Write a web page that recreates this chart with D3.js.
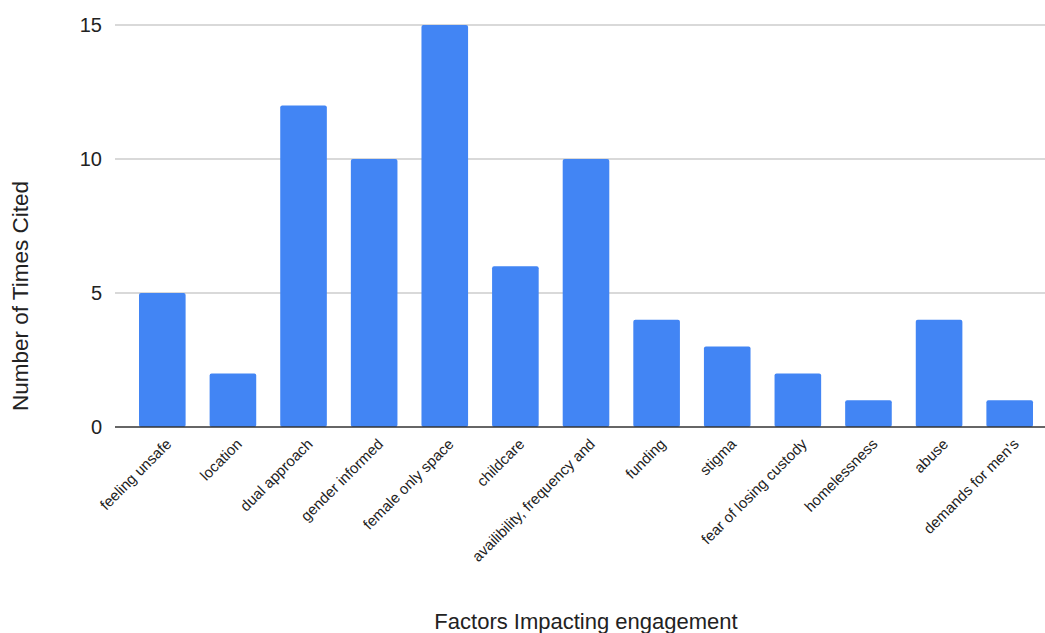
<!DOCTYPE html>
<html>
<head>
<meta charset="utf-8">
<script src="https://cdn.jsdelivr.net/npm/d3@7"></script>
<style>
  html, body { margin: 0; padding: 0; background: #fff; }
  svg { display: block; font-family: Arial, "Liberation Sans", sans-serif; }
</style>
</head>
<body>
<svg id="chart" width="1045" height="633"></svg>
<script>
// Factors cited as impacting engagement, with how often each was cited
const categories = [
  "feeling unsafe", "location", "dual approach", "gender informed",
  "female only space", "childcare", "availibility, frequency and",
  "funding", "stigma", "fear of losing custody", "homelessness",
  "abuse", "demands for men's"
];
const timesCited = [5, 2, 12, 10, 15, 6, 10, 4, 3, 2, 1, 4, 1];
const yTicks = [0, 5, 10, 15];

const svg = d3.select("#chart");
const plot = { left: 127, right: 1045, top: 25, bottom: 427, gridStart: 115 };

const x = d3.scaleBand()
  .domain(categories)
  .range([plot.left, plot.right])
  .paddingInner(0.34)
  .paddingOuter(0.17);

const y = d3.scaleLinear()
  .domain([0, 15])
  .range([plot.bottom, plot.top]);

// horizontal gridlines
svg.append("g")
  .selectAll("line")
  .data(yTicks.filter(t => t > 0))
  .join("line")
  .attr("x1", plot.gridStart)
  .attr("x2", plot.right)
  .attr("y1", d => y(d))
  .attr("y2", d => y(d))
  .attr("stroke", "#cccccc")
  .attr("stroke-width", 1.3);

// y tick labels
svg.append("g")
  .selectAll("text")
  .data(yTicks)
  .join("text")
  .attr("x", 102)
  .attr("y", d => y(d))
  .attr("dy", "0.35em")
  .attr("text-anchor", "end")
  .attr("font-size", 20)
  .attr("fill", "#222")
  .text(d => d);

// bars
svg.append("g")
  .selectAll("rect")
  .data(timesCited)
  .join("rect")
  .attr("x", (d, i) => x(categories[i]))
  .attr("y", d => y(d))
  .attr("width", x.bandwidth())
  .attr("height", d => y(0) - y(d))
  .attr("rx", 2)
  .attr("fill", "#4285f4");

// baseline
svg.append("line")
  .attr("x1", plot.gridStart)
  .attr("x2", plot.right)
  .attr("y1", y(0))
  .attr("y2", y(0))
  .attr("stroke", "#333")
  .attr("stroke-width", 1.5);

// rotated category labels
svg.append("g")
  .selectAll("text")
  .data(categories)
  .join("text")
  .attr("transform", d => `translate(${x(d) + x.bandwidth() / 2 + 10},${plot.bottom + 18}) rotate(-45)`)
  .attr("text-anchor", "end")
  .attr("font-size", 15)
  .attr("fill", "#222")
  .text(d => d);

// axis titles
svg.append("text")
  .attr("x", (plot.left + plot.right) / 2)
  .attr("y", 629)
  .attr("text-anchor", "middle")
  .attr("font-size", 22)
  .attr("fill", "#222")
  .text("Factors Impacting engagement");

svg.append("text")
  .attr("transform", "translate(28,296) rotate(-90)")
  .attr("text-anchor", "middle")
  .attr("font-size", 22.5)
  .attr("fill", "#222")
  .text("Number of Times Cited");
</script>
</body>
</html>
